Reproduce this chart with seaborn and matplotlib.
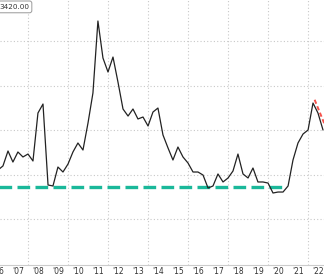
import matplotlib
matplotlib.use("Agg")
import matplotlib.pyplot as plt
import matplotlib.dates as mdates
import seaborn as sns
import pandas as pd
import numpy as np

# Quarterly series (start 2006-07-01)
start_date = "2006-07-01"
values = [1550, 1596, 1764, 1640, 1753, 1697, 1730, 1652, 2191, 2292,
          1382, 1371, 1584, 1528, 1618, 1753, 1854, 1775, 2079, 2416,
          3225, 2809, 2652, 2820, 2539, 2236, 2157, 2236, 2124, 2146,
          2045, 2202, 2247, 1944, 1798, 1663, 1809, 1697, 1629, 1528,
          1528, 1494, 1348, 1371, 1506, 1416, 1461, 1539, 1730, 1506,
          1461, 1573, 1416, 1416, 1404, 1292, 1303, 1303, 1371, 1663,
          1854, 1955, 2000, 2303, 2191, 2000]

support_level = 1365
support_dates = ["2006-07-01", "2020-10-01"]
trend_dates = ["2022-05-01", "2022-11-15"]
trend_values = [2340, 2040]
year_labels = ["'06", "'07", "'08", "'09", "'10", "'11", "'12", "'13", "'14",
               "'15", "'16", "'17", "'18", "'19", "'20", "'21", "'22"]
years = list(range(2006, 2023))
price_label = "3420.00"

dates = pd.date_range(start_date, periods=len(values), freq="QS")
df = pd.DataFrame({"date": dates, "value": values})

sns.set_style("white")
fig = plt.figure(figsize=(3.24, 2.75), dpi=100)
ax = fig.add_axes([0, 10 / 275, 1, 265 / 275])

# grid
for y in [1000, 1500, 2000, 2500, 3000]:
    ax.axhline(y, color="#c8c8c8", lw=0.8, ls=(0, (1, 2)), zorder=0)
for yr in range(2008, 2023, 2):
    ax.axvline(pd.Timestamp(f"{yr}-01-01"), color="#c8c8c8", lw=0.8, ls=(0, (1, 2)), zorder=0)

sns.lineplot(data=df, x="date", y="value", ax=ax, color="#222222", lw=0.9, zorder=3)

ax.plot(pd.to_datetime(support_dates), [support_level, support_level],
        color="#1ab89a", lw=2.4, dashes=(3.8, 1.6), zorder=2, solid_capstyle="butt")
ax.plot(pd.to_datetime(trend_dates), trend_values, color="#f5524b", lw=1.4,
        dashes=(2.2, 1.4), zorder=4)

ax.set_xlabel("")
ax.set_ylabel("")
ax.set_yticks([])

ax.set_xticks([pd.Timestamp(f"{y}-01-01") for y in years] + [pd.Timestamp("2023-01-01")])
ax.set_xticklabels([])
ax.set_xticks([pd.Timestamp(f"{y}-07-01") for y in years], minor=True)
ax.set_xticklabels(year_labels, minor=True)
ax.tick_params(axis="x", which="major", length=5, color="#bbbbbb", width=0.8, direction="out")
ax.tick_params(axis="x", which="minor", length=0, labelsize=5.5, labelcolor="#333333", pad=1.5)

ax.set_xlim(pd.Timestamp("2006-08-08"), pd.Timestamp("2022-10-19"))
ax.set_ylim(483, 3461)

# first year label, partly outside the visible range (cut at the edge)
ax.annotate(year_labels[0], xy=(pd.Timestamp(f"{years[0]}-07-01"), 0),
            xycoords=("data", "axes fraction"), xytext=(0, -1.5),
            textcoords="offset points", ha="center", va="top",
            fontsize=5.5, color="#333333", annotation_clip=False)

for s in ["top", "right", "left"]:
    ax.spines[s].set_visible(False)
ax.spines["bottom"].set_color("#cccccc")
ax.spines["bottom"].set_linewidth(0.8)

ax.text(0.043, 0.974, price_label, transform=ax.transAxes, fontsize=5.2, color="#333333",
        ha="center", va="center",
        bbox=dict(boxstyle="round,pad=0.4,rounding_size=0.3", fc="white", ec="#999999", lw=0.7),
        zorder=6)

fig.savefig("out.png", dpi=100)
